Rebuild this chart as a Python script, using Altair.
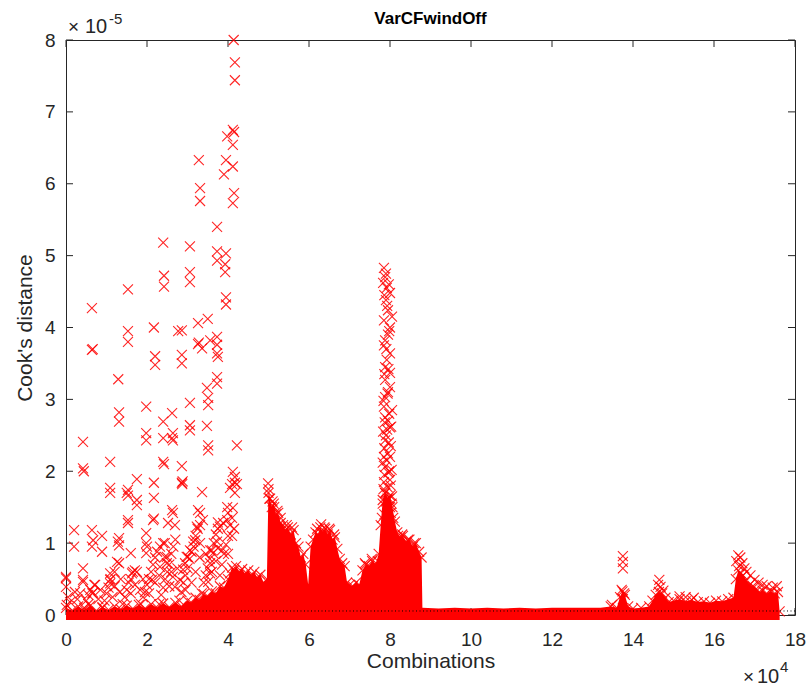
import altair as alt
import pandas as pd

# ---------------- data ----------------
# x in units of 1e4 combinations, y in units of 1e-5 (Cook's distance)

# upper edge of the dense (solid) mass of markers
env_x = [0.00, 0.15, 0.30, 0.45, 0.60, 0.75, 0.90, 1.05, 1.20, 1.35, 1.50, 1.65, 1.80, 1.95,
         2.10, 2.25, 2.40, 2.55, 2.70, 2.85, 3.00, 3.10, 3.20, 3.30, 3.40, 3.50, 3.60, 3.70,
         3.80, 3.90, 4.00, 4.05, 4.10, 4.15, 4.20, 4.28, 4.35, 4.42, 4.50, 4.58, 4.65, 4.72,
         4.80, 4.88, 4.96, 5.00, 5.04, 5.08, 5.13, 5.18, 5.24, 5.30, 5.36, 5.42, 5.48, 5.55,
         5.62, 5.68, 5.74, 5.80, 5.86, 5.92, 5.98, 6.04, 6.10, 6.16, 6.22, 6.28, 6.34, 6.40,
         6.46, 6.52, 6.58, 6.64, 6.70, 6.76, 6.82, 6.88, 6.94, 7.00, 7.08, 7.16, 7.24, 7.32,
         7.40, 7.48, 7.56, 7.64, 7.72, 7.77, 7.82, 7.88, 7.94, 8.00, 8.06, 8.12, 8.18, 8.25,
         8.32, 8.40, 8.48, 8.56, 8.64, 8.72, 8.78, 8.80, 9.20, 9.60, 10.0, 10.4, 10.8, 11.2,
         11.6, 12.0, 12.4, 12.8, 13.2, 13.45, 13.60, 13.68, 13.74, 13.80, 13.88, 14.00, 14.20,
         14.40, 14.48, 14.56, 14.64, 14.72, 14.80, 14.88, 15.00, 15.15, 15.30, 15.45, 15.60,
         15.75, 15.90, 16.05, 16.20, 16.35, 16.48, 16.54, 16.60, 16.66, 16.72, 16.80, 16.88,
         16.96, 17.04, 17.12, 17.20, 17.30, 17.40, 17.50, 17.58, 17.62]
env_top = [0.10, 0.06, 0.12, 0.07, 0.13, 0.06, 0.11, 0.07, 0.12, 0.08, 0.13, 0.09, 0.14, 0.09,
           0.15, 0.10, 0.16, 0.11, 0.17, 0.12, 0.20, 0.17, 0.24, 0.21, 0.29, 0.26, 0.33, 0.30,
           0.40, 0.38, 0.50, 0.58, 0.66, 0.62, 0.68, 0.60, 0.64, 0.57, 0.62, 0.55, 0.60, 0.52,
           0.56, 0.45, 0.50, 1.75, 1.62, 1.50, 1.55, 1.40, 1.42, 1.28, 1.25, 1.18, 1.22, 1.12,
           1.18, 1.00, 0.95, 0.80, 0.85, 0.70, 0.42, 0.95, 1.05, 1.15, 1.12, 1.22, 1.15, 1.20,
           1.12, 1.18, 1.05, 1.08, 0.92, 0.78, 0.72, 0.68, 0.45, 0.42, 0.40, 0.45, 0.42, 0.62,
           0.70, 0.68, 0.75, 0.70, 0.85, 1.25, 1.60, 1.70, 1.62, 1.66, 1.50, 1.30, 1.15, 1.08,
           1.10, 1.02, 1.05, 0.95, 1.00, 0.88, 0.80, 0.10, 0.09, 0.10, 0.09, 0.10, 0.09, 0.10,
           0.09, 0.10, 0.10, 0.10, 0.10, 0.12, 0.10, 0.25, 0.33, 0.28, 0.12, 0.09, 0.10,
           0.12, 0.20, 0.28, 0.32, 0.30, 0.24, 0.18, 0.20, 0.22, 0.19, 0.21, 0.18,
           0.19, 0.17, 0.20, 0.19, 0.22, 0.24, 0.50, 0.62, 0.58, 0.55, 0.48, 0.42,
           0.40, 0.36, 0.32, 0.34, 0.30, 0.33, 0.30, 0.32, 0.05]
mass_floor = -0.07   # lowest visible edge of the markers sitting on zero

# scattered markers, left part (0 - 4.3e4)
left_x = [4.14, 4.17, 4.17, 4.12, 4.15, 3.98, 4.12, 3.28, 3.95, 4.12, 3.90, 3.31, 4.15, 3.31,
          4.12, 3.73, 2.40, 3.06, 3.73, 3.95, 3.73, 3.93, 3.93, 3.06, 2.42, 3.06, 2.42, 1.53,
          3.95, 3.95, 0.64, 3.50, 3.26, 2.17, 2.86, 2.77, 1.53, 3.73, 3.56, 1.53, 3.26, 3.28,
          3.73, 3.36, 0.64, 0.66, 3.73, 2.86, 2.20, 3.75, 2.86, 2.20, 3.73, 1.29, 3.73, 3.48,
          3.51, 3.06, 3.51, 1.98, 1.31, 2.62, 1.31, 2.40, 3.06, 3.48, 3.06, 2.64, 1.98, 2.40,
          2.62, 1.98, 2.64, 0.42, 3.51, 4.22, 3.51, 1.09, 2.40, 2.42, 2.86, 0.42, 0.44, 4.12,
          4.17, 1.75, 2.86, 2.88, 2.87, 2.17, 4.17, 4.10, 4.22, 4.05, 1.09, 1.53, 3.36, 4.17,
          1.09, 1.50, 1.53, 2.17, 1.75, 1.75, 3.98, 4.12, 3.26, 2.62, 2.64, 3.31, 4.00, 2.17,
          1.53, 2.15, 3.38, 3.98, 3.75, 1.53, 2.52, 3.88, 2.69, 3.31, 3.23, 3.80, 0.20, 0.64,
          1.98, 0.89, 1.31, 0.67, 3.19, 1.28, 3.14, 3.73, 1.98, 2.44, 3.31, 2.40, 1.31, 0.20,
          0.64, 2.32, 2.00, 3.75, 3.06, 3.56, 0.89, 1.60, 1.98, 3.63, 2.49, 2.44, 2.98, 3.01,
          1.26, 1.31, 2.94, 3.56, 0.42, 2.89, 1.75, 1.63, 1.09, 3.56, 0.00, 2.64, 0.00, 0.42,
          1.09, 2.81, 2.12, 3.51, 0.42, 1.09, 0.72, 0.00, 2.69, 1.83, 0.22, 1.33, 0.67, 0.02,
          2.32, 2.49]
left_y = [8.00, 7.69, 7.44, 6.75, 6.72, 6.66, 6.54, 6.33, 6.33, 6.24, 6.13, 5.94, 5.87, 5.76,
          5.73, 5.40, 5.18, 5.13, 5.06, 5.03, 4.93, 4.88, 4.77, 4.77, 4.72, 4.63, 4.57, 4.53,
          4.42, 4.32, 4.27, 4.12, 4.06, 4.00, 3.96, 3.95, 3.95, 3.87, 3.82, 3.80, 3.77, 3.79,
          3.76, 3.71, 3.69, 3.70, 3.64, 3.62, 3.60, 3.59, 3.50, 3.48, 3.31, 3.28, 3.22, 3.16,
          3.02, 2.95, 2.92, 2.90, 2.82, 2.81, 2.69, 2.69, 2.64, 2.63, 2.57, 2.53, 2.53, 2.46,
          2.46, 2.43, 2.43, 2.41, 2.36, 2.36, 2.29, 2.13, 2.13, 2.10, 2.07, 2.04, 2.00, 1.99,
          1.92, 1.89, 1.84, 1.86, 1.82, 1.84, 1.84, 1.82, 1.82, 1.77, 1.77, 1.74, 1.71, 1.70,
          1.70, 1.70, 1.66, 1.63, 1.60, 1.53, 1.50, 1.49, 1.46, 1.46, 1.42, 1.42, 1.42, 1.34,
          1.32, 1.32, 1.32, 1.32, 1.29, 1.28, 1.28, 1.28, 1.25, 1.25, 1.23, 1.23, 1.18, 1.18,
          1.14, 1.10, 1.07, 1.04, 1.04, 1.02, 1.02, 1.02, 1.00, 1.00, 1.00, 1.00, 0.97, 0.95,
          0.95, 0.95, 0.95, 0.93, 0.90, 0.90, 0.88, 0.86, 0.86, 0.86, 0.81, 0.81, 0.81, 0.81,
          0.74, 0.72, 0.72, 0.72, 0.65, 0.63, 0.60, 0.58, 0.58, 0.58, 0.53, 0.53, 0.51, 0.49,
          0.49, 0.49, 0.49, 0.46, 0.46, 0.44, 0.42, 0.39, 0.39, 0.35, 0.32, 0.32, 0.31, 0.14,
          0.67, 0.72]

# the rising diagonal streaks of markers in the left part
streak_x = [0.45, 0.50, 0.55, 0.60, 0.65, 0.70, 0.90, 0.95, 1.00, 1.05, 1.10, 1.20, 1.40,
            1.45, 1.50, 1.55, 1.60, 1.65, 1.70, 1.85, 1.90, 1.95, 2.00, 2.05, 2.10, 2.15,
            2.20, 2.25, 2.30, 2.35, 2.40, 2.45, 2.50, 2.55, 2.60, 2.65, 2.70, 2.80, 2.85,
            2.90, 2.95, 3.00, 3.05, 3.10, 3.15, 3.20, 3.25, 3.35, 3.40, 3.45, 3.50, 3.55,
            3.60, 3.65, 3.70, 3.75, 3.80, 3.85, 3.90, 3.95, 4.00, 4.05, 4.10,
            0.05, 0.10, 0.28, 0.35, 0.55, 0.80, 0.85, 1.15, 1.20, 1.35, 1.60, 1.70, 1.90,
            2.05, 2.20, 2.30, 2.55, 2.60, 2.75, 2.95, 3.10, 3.20, 3.30, 3.45, 3.60, 3.70,
            3.85, 4.00, 4.10, 4.15]
streak_y = [0.10, 0.20, 0.28, 0.35, 0.30, 0.42, 0.10, 0.20, 0.30, 0.38, 0.50, 0.60, 0.15,
            0.25, 0.35, 0.45, 0.50, 0.60, 0.62, 0.15, 0.25, 0.32, 0.42, 0.50, 0.60, 0.70,
            0.80, 0.88, 0.15, 0.28, 0.38, 0.50, 0.60, 0.70, 0.85, 0.95, 1.05, 0.20, 0.32,
            0.45, 0.55, 0.65, 0.78, 0.88, 0.95, 1.10, 1.20, 0.30, 0.45, 0.55, 0.65, 0.78,
            0.90, 1.00, 1.12, 1.20, 0.55, 0.70, 0.85, 0.98, 1.10, 1.25, 1.35,
            0.25, 0.18, 0.22, 0.30, 0.15, 0.22, 0.35, 0.25, 0.40, 0.50, 0.30, 0.42, 0.50,
            0.30, 0.45, 0.55, 0.40, 0.60, 0.65, 0.35, 0.45, 0.60, 0.80, 0.85, 0.60, 0.75,
            0.90, 0.85, 1.10, 1.20]

# scattered markers, middle part (5e4 - 8.8e4), including the tall 8e4 column
mid_x = [4.99, 5.00, 5.02, 5.10, 5.14, 5.22, 5.30, 5.45, 5.58, 6.20, 6.30, 6.38, 6.50, 6.62,
         7.38, 7.55, 7.70, 8.20, 8.30, 8.45, 8.60,
         7.85, 7.88, 7.83, 8.00, 7.90, 7.95, 8.05, 8.00, 7.88, 8.00, 7.88, 8.00, 7.88, 8.00,
         7.88, 8.05, 7.88, 8.00, 7.88, 7.95, 7.88, 8.00, 7.88, 8.00, 7.92, 7.85, 7.95, 7.92,
         7.95, 7.85, 7.95, 7.90, 8.02, 7.85, 7.98, 7.85, 8.05, 7.92,
         7.80, 7.86, 7.92, 8.02, 8.08, 7.82, 7.90, 7.98, 8.04, 7.84, 7.94, 8.02, 7.86, 7.96,
         8.04, 7.82, 7.92, 8.00, 7.86, 7.97, 7.83, 7.93, 8.03, 7.87, 7.98, 7.84, 7.94, 7.86,
         7.96, 7.91, 7.85, 7.98, 7.93, 7.86, 7.97, 7.90]
mid_y = [1.83, 1.70, 1.62, 1.58, 1.50, 1.45, 1.35, 1.25, 1.22, 1.20, 1.26, 1.22, 1.20, 1.12,
         0.72, 0.78, 0.75, 1.10, 1.12, 1.05, 1.00,
         4.83, 4.70, 4.62, 4.48, 4.38, 4.24, 4.15, 4.00, 3.82, 3.64, 3.45, 3.37, 3.27, 3.17,
         3.03, 2.85, 2.75, 2.61, 2.43, 2.25, 2.06, 1.88, 1.70, 1.50, 4.55, 4.10, 3.90, 3.55,
         3.10, 2.90, 2.70, 2.50, 2.35, 2.20, 2.00, 1.85, 1.65, 1.60,
         1.35, 1.40, 1.38, 1.42, 1.35, 1.55, 1.58, 1.62, 1.55, 1.75, 1.78, 1.80, 1.95, 1.98,
         2.02, 2.12, 2.15, 2.20, 2.32, 2.40, 2.55, 2.58, 2.62, 2.68, 2.80, 2.98, 3.08, 3.35,
         3.42, 3.70, 3.75, 3.95, 4.30, 4.45, 4.60, 4.75]

# scattered markers, right part (13e4 - 17.6e4)
right_x = [13.48, 13.75, 13.75, 13.75, 13.72, 13.78, 13.75, 14.65, 14.68, 14.62, 14.75, 15.15,
           15.30, 15.50, 16.60, 16.65, 16.55, 16.70, 16.62, 16.75, 16.80, 16.90, 17.00, 17.10,
           17.20, 17.30, 17.45, 17.55]
right_y = [0.14, 0.82, 0.74, 0.65, 0.35, 0.30, 0.22, 0.49, 0.39, 0.42, 0.34, 0.26,
           0.25, 0.24, 0.83, 0.80, 0.75, 0.72, 0.68, 0.65, 0.60, 0.55, 0.49, 0.45,
           0.42, 0.40, 0.38, 0.40]

threshold = [0.056]          # dotted reference line
x_ticks = [0, 2, 4, 6, 8, 10, 12, 14, 16, 18]
y_ticks = [0, 1, 2, 3, 4, 5, 6, 7, 8]

# ---------------- styling ----------------
W, H = 729, 575
TICK = 7
FONT = "Liberation Sans"
INK = "#262626"
RED = "#ff0000"
XPATH = "M-1,-1L1,1M-1,1L1,-1"

env_df = pd.DataFrame({"x": env_x, "y": env_top})
env_df["floor"] = mass_floor
pts_df = pd.DataFrame({"x": left_x + streak_x + mid_x + right_x,
                       "y": left_y + streak_y + mid_y + right_y})
thr_df = pd.DataFrame({"t": threshold})
xt_df = pd.DataFrame({"v": x_ticks})
yt_df = pd.DataFrame({"v": y_ticks})

xs = alt.Scale(domain=[0, 18], nice=False, zero=False)
ys = alt.Scale(domain=[0, 8], nice=False, zero=False)

x_main = alt.Axis(orient="bottom", values=x_ticks, ticks=False, tickSize=0, domain=False,
                  grid=False, labelFont=FONT, labelFontSize=19, labelColor=INK,
                  labelPadding=15, labelFlush=False, labelOverlap=False,
                  title="Combinations", titleFont=FONT, titleFontSize=21,
                  titleFontWeight="normal", titleColor=INK, titleX=W / 2, titleY=46,
                  titleBaseline="middle", titleAlign="center")
y_main = alt.Axis(orient="left", values=y_ticks, ticks=False, tickSize=0, domain=False,
                  grid=False, labelFont=FONT, labelFontSize=19, labelColor=INK,
                  labelPadding=11, labelFlush=False, labelOverlap=False,
                  title="Cook's distance", titleFont=FONT, titleFontSize=21,
                  titleFontWeight="normal", titleColor=INK, titleX=-41, titleY=H / 2,
                  titleAngle=-90, titleBaseline="middle", titleAlign="center")

# inward tick marks on all four sides (MATLAB box style)
tick_style = dict(color=INK, strokeWidth=1)
ticks_bottom = alt.Chart(xt_df).mark_rule(**tick_style).encode(
    x=alt.X("v:Q", scale=xs, axis=None), y=alt.value(H), y2=alt.value(H - TICK))
ticks_left = alt.Chart(yt_df).mark_rule(**tick_style).encode(
    y=alt.Y("v:Q", scale=ys, axis=None), x=alt.value(0), x2=alt.value(TICK))
ticks_top = alt.Chart(xt_df).mark_rule(**tick_style).encode(
    x=alt.X("v:Q", scale=xs, axis=None), y=alt.value(0), y2=alt.value(TICK))
ticks_right = alt.Chart(yt_df).mark_rule(**tick_style).encode(
    y=alt.Y("v:Q", scale=ys, axis=None), x=alt.value(W), x2=alt.value(W - TICK))

# the labelled axes live on the dense-mass layer
mass = alt.Chart(env_df).mark_area(color=RED, opacity=1).encode(
    x=alt.X("x:Q", scale=xs, axis=x_main),
    y=alt.Y("y:Q", scale=ys, axis=y_main),
    y2="floor:Q",
)

cross_style = dict(shape=XPATH, filled=False, size=100, strokeWidth=1.1, color=RED,
                   opacity=0.85)

edge = alt.Chart(env_df).transform_filter(
    "datum.x < 8.79 || datum.x > 13.3"
).mark_point(**cross_style).encode(
    x=alt.X("x:Q", scale=xs, axis=None),
    y=alt.Y("y:Q", scale=ys, axis=None),
)

scatter = alt.Chart(pts_df).mark_point(**cross_style).encode(
    x=alt.X("x:Q", scale=xs, axis=None),
    y=alt.Y("y:Q", scale=ys, axis=None),
)

thr = alt.Chart(thr_df).mark_rule(color="black", strokeDash=[1, 2.5], strokeWidth=1).encode(
    y=alt.Y("t:Q", scale=ys, axis=None)
)


def label(txt, px, py, size, weight="normal", color=INK, align="left"):
    return alt.Chart(pd.DataFrame({"t": [txt]})).mark_text(
        font=FONT, fontSize=size, fontWeight=weight, color=color, align=align,
        baseline="alphabetic").encode(x=alt.value(px), y=alt.value(py), text="t:N")


texts = [
    label("VarCFwindOff", W / 2, -16, 17, weight="bold", color="black", align="center"),
    label("\u00d7", 2, -7, 19),
    label("10", 19, -7, 20),
    label("-5", 43, -16, 15),
    label("\u00d7", 677, 643, 19),
    label("10", 691, 643, 20),
    label("4", 714, 632, 15),
]

chart = alt.layer(ticks_bottom, ticks_left, ticks_top, ticks_right,
                  mass, edge, scatter, thr, *texts).resolve_axis(
    x="independent", y="independent"
).properties(
    width=W, height=H,
    autosize=alt.AutoSizeParams(type="none"),
    padding={"left": 66, "top": 40, "right": 15, "bottom": 73},
    background="white",
).configure_view(stroke=INK, strokeWidth=1)

chart.save("out.html", embed_options={"renderer": "svg", "actions": False})
